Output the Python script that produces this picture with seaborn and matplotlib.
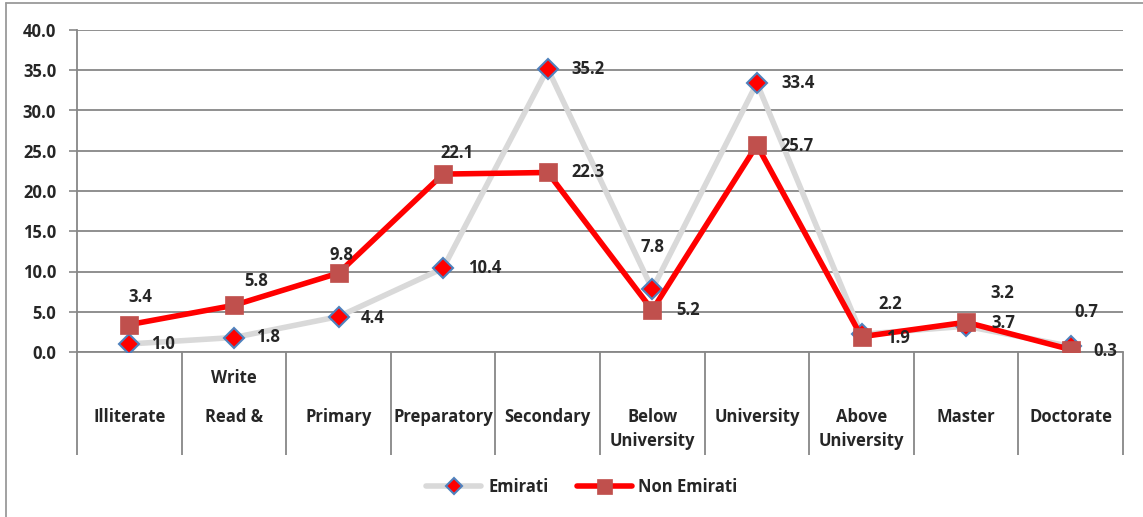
import numpy as np
import pandas as pd
import matplotlib
matplotlib.use("Agg")
import matplotlib.pyplot as plt
import seaborn as sns
from matplotlib.lines import Line2D

# ======================= Data =======================
categories = ["Illiterate", "Read & Write", "Primary", "Preparatory", "Secondary",
              "Below University", "University", "Above University", "Master", "Doctorate"]
emirati = [1.0, 1.8, 4.4, 10.4, 35.2, 7.8, 33.4, 2.2, 3.2, 0.7]
non_emirati = [3.4, 5.8, 9.8, 22.1, 22.3, 5.2, 25.7, 1.9, 3.7, 0.3]
y_ticks = [0, 5, 10, 15, 20, 25, 30, 35, 40]

# how each category label is broken into rows (text, row pixel y)
tick_lines = {
    "Read & Write": [("Write", 378), ("Read &", 417)],
    "Below University": [("Below", 417), ("University", 441)],
    "Above University": [("Above", 417), ("University", 441)],
}

# data label offsets in pixels (dx, dy, ha)
emirati_lbl = [(22, 0, "left"), (22, -1, "left"), (22, 1, "left"), (25, 0, "left"),
               (24, 0, "left"), (0, -42, "center"), (24, 0, "left"),
               (29, -30, "center"), (36, -33, "center"), (16, -34, "center")]
non_lbl = [(11, -28, "center"), (22, -24, "center"), (3, -18, "center"), (14, -21, "center"),
           (24, 0, "left"), (24, 0, "left"), (24, 1, "left"),
           (25, 1, "left"), (25, 1, "left"), (23, 1, "left")]

# ======================= Style =======================
sns.set_style("white")
plt.rcParams["font.family"] = ["Open Sans", "DejaVu Sans"]
plt.rcParams["font.weight"] = "bold"
FS = 12
GRID = "#878787"

W, H = 1143, 517
fig = plt.figure(figsize=(W / 100, H / 100), dpi=100)
ax_left, ax_right, ax_top, ax_bottom = 77, 1123, 30, 352
ax = fig.add_axes([ax_left / W, 1 - ax_bottom / H, (ax_right - ax_left) / W, (ax_bottom - ax_top) / H])

df = pd.DataFrame({"pos": np.arange(len(categories)), "category": categories,
                   "Emirati": emirati, "Non Emirati": non_emirati})

sns.lineplot(data=df, x="pos", y="Emirati", ax=ax, color="#D9D9D9", linewidth=4,
             marker="D", markersize=10, markerfacecolor="#FF0000",
             markeredgecolor="#4F81BD", markeredgewidth=1.5, label="Emirati", zorder=3)
sns.lineplot(data=df, x="pos", y="Non Emirati", ax=ax, color="#FF0000", linewidth=4,
             marker="s", markersize=13.5, markerfacecolor="#C0504D",
             markeredgecolor="#C0504D", markeredgewidth=0.5, label="Non Emirati", zorder=4)

ax.set_xlim(-0.5, len(categories) - 0.5)
ax.set_ylim(0, 40)
ax.set_yticks(y_ticks)
ax.set_yticklabels([f"{v:.1f}" for v in y_ticks], fontsize=FS, fontweight="bold")
ax.tick_params(axis="y", length=6, width=1.2, color=GRID, pad=9, left=True)
ax.set_xticks([])
ax.set_xlabel("")
ax.set_ylabel("")
ax.grid(axis="y", color=GRID, linewidth=1.3)
ax.set_axisbelow(True)
for s in ["top", "right"]:
    ax.spines[s].set_visible(False)
for s in ["left", "bottom"]:
    ax.spines[s].set_color(GRID)
    ax.spines[s].set_linewidth(1.3)

# category separators under the axis (table look)
sep_bottom = -(455 - ax_bottom) / (ax_bottom - ax_top)
ax.vlines(np.arange(len(categories) + 1) - 0.5, sep_bottom, 0, color=GRID, linewidth=1.3,
          transform=ax.get_xaxis_transform(), clip_on=False)

for i, cat in enumerate(categories):
    for txt, ypx in tick_lines.get(cat, [(cat, 417)]):
        ax.text(i, -(ypx - ax_bottom) / (ax_bottom - ax_top), txt, ha="center", va="center",
                fontsize=FS, fontweight="bold", transform=ax.get_xaxis_transform())

# data labels
for series, offs in [(emirati, emirati_lbl), (non_emirati, non_lbl)]:
    for i, (v, (dx, dy, ha)) in enumerate(zip(series, offs)):
        ax.annotate(f"{v:.1f}", xy=(i, v), xytext=(dx, -dy), textcoords="offset pixels",
                    ha=ha, va="center", fontsize=FS, fontweight="bold", zorder=6,
                    annotation_clip=False)

# legend
ax.get_legend().remove()
handles, labels = ax.get_legend_handles_labels()
fig.legend(handles, labels, loc="center", bbox_to_anchor=(582 / W, 1 - 487 / H), ncol=2,
           frameon=False, handlelength=3.3, handletextpad=0.4,
           columnspacing=1.7, markerscale=0.8, prop={"weight": "bold", "size": FS})

# chart area border (left and top visible)
fig.add_artist(Line2D([6 / W, 6 / W], [0, 1 - 3 / H], color="#9A9A9A", linewidth=1.3))
fig.add_artist(Line2D([6 / W, 1], [1 - 3 / H, 1 - 3 / H], color="#9A9A9A", linewidth=1.3))

fig.savefig("out.png", dpi=100)
